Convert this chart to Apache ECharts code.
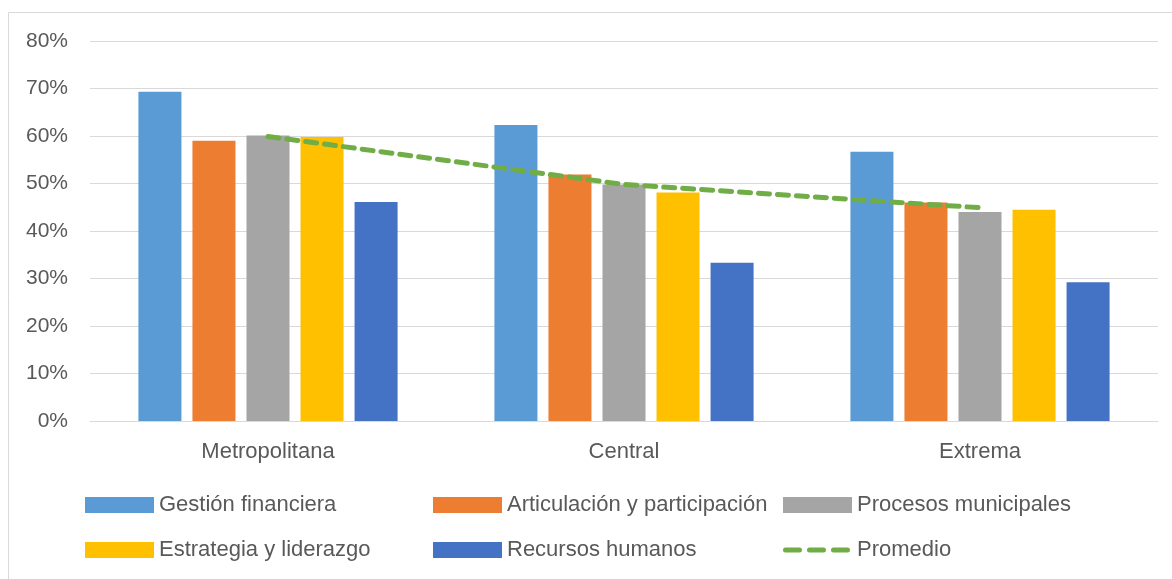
<!DOCTYPE html>
<html>
<head>
<meta charset="utf-8">
<script src="https://cdn.jsdelivr.net/npm/echarts@6/dist/echarts.min.js"></script>
<style>
  html, body { margin: 0; padding: 0; background: #fff; }
  #chart { width: 1172px; height: 579px; }
</style>
</head>
<body>
<div id="chart"></div>
<script>
// categorias y valores (porcentaje)
const categories = ['Metropolitana', 'Central', 'Extrema'];
const gestionFinanciera = [69.3, 62.3, 56.7];
const articulacion = [59.0, 51.9, 46.0];
const procesosMunicipales = [60.1, 49.8, 44.0];
const estrategiaLiderazgo = [59.8, 48.1, 44.5];
const recursosHumanos = [46.1, 33.3, 29.2];
const promedio = [59.9, 49.8, 44.9];
const yTicks = [0, 10, 20, 30, 40, 50, 60, 70, 80];

const font = 'Liberation Sans';
const textColor = '#595959';

// icono de leyenda: tres trazos redondeados
const dashIcon = 'path://M0,0M69,16' +
  'M2.5,5.5h14a2.5,2.5 0 0 1 0,5h-14a2.5,2.5 0 0 1 0,-5z' +
  'M26.5,5.5h14a2.5,2.5 0 0 1 0,5h-14a2.5,2.5 0 0 1 0,-5z' +
  'M50.5,5.5h14a2.5,2.5 0 0 1 0,5h-14a2.5,2.5 0 0 1 0,-5z';

const chart = echarts.init(document.getElementById('chart'));

const barSeries = (name, data, color) => ({
  name,
  type: 'bar',
  data,
  barGap: '25.6%',
  barCategoryGap: '27.2%',
  itemStyle: { color },
  animation: false
});

const legendBase = {
  orient: 'vertical',
  itemWidth: 69,
  itemHeight: 16,
  itemGap: 23,
  padding: 0,
  top: 494,
  icon: 'rect',
  textStyle: { color: textColor, fontSize: 22, lineHeight: 22, fontFamily: font },
  selectedMode: false
};

chart.setOption({
  animation: false,
  graphic: [{
    type: 'rect',
    shape: { x: 8.5, y: 12.5, width: 1200, height: 600 },
    style: { fill: 'none', stroke: '#d9d9d9', lineWidth: 1 },
    silent: true
  }],
  grid: { left: 90, right: 14, top: 41, bottom: 158 },
  xAxis: {
    type: 'category',
    data: categories,
    axisLine: { lineStyle: { color: '#d9d9d9', width: 1 } },
    axisTick: { show: false },
    axisLabel: { color: textColor, fontSize: 22, fontFamily: font, margin: 20 }
  },
  yAxis: {
    type: 'value',
    min: yTicks[0],
    max: yTicks[yTicks.length - 1],
    interval: 10,
    axisLine: { show: false },
    axisTick: { show: false },
    splitLine: { lineStyle: { color: '#d9d9d9', width: 1 } },
    axisLabel: { color: textColor, fontSize: 21, fontFamily: font, margin: 22, formatter: v => v + '%' }
  },
  legend: [
    Object.assign({}, legendBase, { left: 85, data: ['Gestión financiera', 'Estrategia y liderazgo'] }),
    Object.assign({}, legendBase, { left: 433, data: ['Articulación y participación', 'Recursos humanos'] }),
    Object.assign({}, legendBase, { left: 783, data: ['Procesos municipales', { name: 'Promedio', icon: dashIcon, itemStyle: { color: '#70ad47', borderWidth: 0 } }] })
  ],
  series: [
    barSeries('Gestión financiera', gestionFinanciera, '#5b9bd5'),
    barSeries('Articulación y participación', articulacion, '#ed7d31'),
    barSeries('Procesos municipales', procesosMunicipales, '#a5a5a5'),
    barSeries('Estrategia y liderazgo', estrategiaLiderazgo, '#ffc000'),
    barSeries('Recursos humanos', recursosHumanos, '#4472c4'),
    {
      name: 'Promedio',
      type: 'line',
      data: promedio,
      symbol: 'none',
      itemStyle: { color: '#70ad47' },
      lineStyle: { color: '#70ad47', width: 5, type: [11, 8], cap: 'round' },
      z: 5
    }
  ]
});
</script>
</body>
</html>
